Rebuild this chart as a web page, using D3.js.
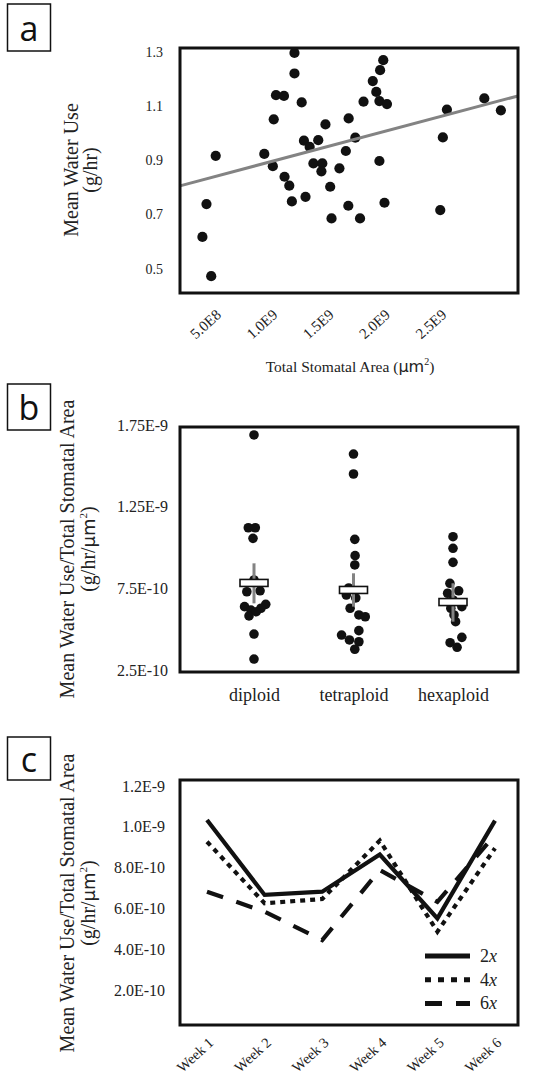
<!DOCTYPE html>
<html>
<head>
<meta charset="utf-8">
<script src="https://cdn.jsdelivr.net/npm/d3@7/dist/d3.min.js"></script>
<style>
  body { margin: 0; background: #fff; }
  svg { display: block; }
  .serif { font-family: "Liberation Serif", "Times New Roman", serif; fill: #222; }
</style>
</head>
<body>
<div id="chart"></div>
<script>
// panel a: mean water use vs total stomatal area
const areaVals = [4.83e8, 4.01e8, 3.65e8, 4.43e8, 9.14e8, 9.98e8, 9.90e8, 10.18e8, 10.89e8, 10.94e8,
  11.36e8, 11.59e8, 11.82e8, 11.82e8, 12.46e8, 12.66e8, 12.80e8, 13.17e8, 13.50e8, 13.93e8,
  14.29e8, 14.21e8, 14.57e8, 14.99e8, 15.11e8, 15.81e8, 16.38e8, 16.63e8, 16.60e8, 17.22e8,
  17.64e8, 17.95e8, 18.77e8, 19.08e8, 19.42e8, 19.70e8, 19.36e8, 20.03e8, 19.36e8, 19.81e8,
  24.76e8, 24.99e8, 25.35e8, 28.67e8, 30.14e8];
const waterVals = [0.916, 0.738, 0.617, 0.472, 0.923, 1.051, 0.878, 1.140, 1.137, 0.839,
  0.806, 0.748, 1.296, 1.220, 1.113, 0.972, 0.765, 0.949, 0.888, 0.974,
  0.888, 0.859, 1.032, 0.802, 0.685, 0.870, 0.934, 1.054, 0.732, 0.983,
  0.685, 1.116, 1.192, 1.152, 1.232, 1.269, 1.118, 1.107, 0.897, 0.743,
  0.716, 0.984, 1.087, 1.128, 1.084];
const fitIntercept = 0.787;
const fitSlope = 1.106e-10;
const aYTicks = [0.5, 0.7, 0.9, 1.1, 1.3];
const aXTicks = [5e8, 1e9, 1.5e9, 2e9, 2.5e9];
const aXTickLabels = ["5.0E8", "1.0E9", "1.5E9", "2.0E9", "2.5E9"];

// panel b: per ploidy, water use / stomatal area
const ploidy = ["diploid", "tetraploid", "hexaploid"];
const diploidVals = [16.89, 11.21, 11.21, 10.56, 8.01, 7.29, 7.35, 6.38, 6.52, 6.17, 6.28, 5.81, 6.07, 4.70, 3.17].map(v => v * 1e-10);
const diploidJit = [0, -0.057, 0.013, -0.01, 0, -0.072, 0.061, -0.095, 0.118, -0.031, 0.07, -0.05, 0.023, 0, 0];
const tetraVals = [15.72, 14.50, 10.50, 9.50, 8.93, 7.52, 7.09, 6.91, 6.28, 5.87, 5.76, 4.91, 4.64, 4.34, 4.23, 3.77].map(v => v * 1e-10);
const tetraJit = [0, 0, 0.013, 0.016, 0.013, -0.048, -0.072, 0.023, -0.034, 0.054, 0.118, 0.054, -0.12, -0.041, 0.054, 0.013];
const hexaVals = [10.66, 9.95, 9.09, 7.81, 7.35, 7.20, 6.79, 6.38, 6.28, 5.87, 5.46, 4.50, 4.17, 3.89].map(v => v * 1e-10);
const hexaJit = [0, 0, 0, -0.031, 0.057, -0.054, 0, 0.089, -0.022, 0.01, 0.026, 0.089, -0.029, 0.041];
const ploidyMean = [7.83e-10, 7.40e-10, 6.66e-10];
const ploidyHi = [9.03e-10, 8.42e-10, 7.81e-10];
const ploidyLo = [6.58e-10, 6.38e-10, 5.46e-10];
const bYTicks = [2.5e-10, 7.5e-10, 1.25e-9, 1.75e-9];
const bYTickLabels = ["2.5E-10", "7.5E-10", "1.25E-9", "1.75E-9"];

// panel c: weekly means
const weeks = ["Week 1", "Week 2", "Week 3", "Week 4", "Week 5", "Week 6"];
const s2x = [10.33, 6.66, 6.82, 8.64, 5.51, 10.30].map(v => v * 1e-10);
const s4x = [9.27, 6.25, 6.46, 9.32, 4.86, 8.95].map(v => v * 1e-10);
const s6x = [6.82, 5.84, 4.45, 7.88, 6.32, 9.60].map(v => v * 1e-10);
const seriesNames = ["2", "4", "6"];
const cYTicks = [2e-10, 4e-10, 6e-10, 8e-10, 1e-9, 1.2e-9];
const cYTickLabels = ["2.0E-10", "4.0E-10", "6.0E-10", "8.0E-10", "1.0E-9", "1.2E-9"];

const width = 554;
const height = 1079;
const boxLeft = 180;
const boxRight = 518;
const serif = '"Liberation Serif", "Times New Roman", serif';

const svg = d3.select("#chart").append("svg")
    .attr("width", width)
    .attr("height", height);

// letter boxes
const panelLetter = function (letter, top, h) {
    svg.append("rect")
        .attr("x", 7.5).attr("y", top).attr("width", 43).attr("height", h)
        .attr("fill", "none").attr("stroke", "#111").attr("stroke-width", 1.5);
    svg.append("text")
        .attr("x", 29).attr("y", top + h / 2)
        .attr("text-anchor", "middle").attr("dominant-baseline", "central")
        .style("font-family", '"Open Sans", "DejaVu Sans", sans-serif')
        .style("font-size", "34px").attr("fill", "#111")
        .text(letter);
};

const frame = function (top, bottom) {
    svg.append("rect")
        .attr("x", boxLeft).attr("y", top)
        .attr("width", boxRight - boxLeft).attr("height", bottom - top)
        .attr("fill", "none").attr("stroke", "#111").attr("stroke-width", 3);
};

const yTitle = function (line1, x1, x2, cy) {
    svg.append("text").attr("class", "serif")
        .attr("transform", "translate(" + x1 + "," + cy + ") rotate(-90)")
        .attr("text-anchor", "middle").style("font-size", "20px")
        .text(line1);
    return svg.append("text").attr("class", "serif")
        .attr("transform", "translate(" + x2 + "," + cy + ") rotate(-90)")
        .attr("text-anchor", "middle").style("font-size", "20px");
};

const unitLine = function (t) {
    t.append("tspan").text("(g/hr/");
    t.append("tspan").style("font-family", '"DejaVu Sans", sans-serif').style("font-size", "18px").text("\u03bcm");
    t.append("tspan").attr("dy", -8).style("font-size", "11px").text("2");
    t.append("tspan").attr("dy", 8).text(")");
};

const styleAxis = function (g, size) {
    g.select(".domain").remove();
    g.selectAll("text")
        .style("font-family", serif)
        .style("font-size", size)
        .attr("fill", "#222");
};

// ---------------- panel a ----------------
const aTop = 48, aBottom = 293;
const xA = d3.scaleLinear().domain([1.66e8, 31.66e8]).range([boxLeft, boxRight]);
const yA = d3.scaleLinear().domain([0.41, 1.314]).range([aBottom, aTop]);

panelLetter("a", 4, 47);

const pointsA = areaVals.map((v, i) => ({x: v, y: waterVals[i]}));
svg.append("g").selectAll("circle")
    .data(pointsA)
    .enter()
    .append("circle")
    .attr("cx", d => xA(d.x))
    .attr("cy", d => yA(d.y))
    .attr("r", 5.1)
    .attr("fill", "#111");

const fitX = xA.domain();
svg.append("line")
    .attr("x1", xA(fitX[0])).attr("y1", yA(fitIntercept + fitSlope * fitX[0]))
    .attr("x2", xA(fitX[1])).attr("y2", yA(fitIntercept + fitSlope * fitX[1]))
    .attr("stroke", "#838383").attr("stroke-width", 3);

frame(aTop, aBottom);

svg.append("g")
    .attr("transform", "translate(" + boxLeft + ",0)")
    .call(d3.axisLeft(yA).tickValues(aYTicks).tickSize(0).tickPadding(17).tickFormat(d3.format(".1f")))
    .call(g => styleAxis(g, "14px"));

svg.append("g")
    .attr("transform", "translate(0," + aBottom + ")")
    .call(d3.axisBottom(xA).tickValues(aXTicks).tickSize(0).tickFormat((d, i) => aXTickLabels[i]))
    .call(g => styleAxis(g, "15px"))
    .call(g => g.selectAll("text")
        .attr("x", 0).attr("y", 0).attr("dy", 0)
        .attr("text-anchor", "end")
        .attr("transform", "translate(4,23) rotate(-42)"));

const aXT = svg.append("text").attr("class", "serif")
    .attr("x", 350).attr("y", 372)
    .attr("text-anchor", "middle").style("font-size", "15.5px");
aXT.append("tspan").text("Total Stomatal Area (");
aXT.append("tspan").style("font-family", '"DejaVu Sans", sans-serif').style("font-size", "16px").text("\u03bcm");
aXT.append("tspan").attr("dy", -7).style("font-size", "10px").text("2");
aXT.append("tspan").attr("dy", 7).text(")");

yTitle("Mean Water Use", 78, 97, 170).text("(g/hr)");

// ---------------- panel b ----------------
const bTop = 427, bBottom = 672;
const xB = d3.scalePoint().domain(ploidy).range([254, 453]);
const yB = d3.scaleLinear().domain([2.5e-10, 1.75e-9]).range([670, 425]);

panelLetter("b", 384, 46);

const groupVals = [diploidVals, tetraVals, hexaVals];
const groupJit = [diploidJit, tetraJit, hexaJit];
const pointsB = [];
ploidy.forEach((p, gi) => {
    groupVals[gi].forEach((v, i) => pointsB.push({group: p, v: v, j: groupJit[gi][i]}));
});

svg.append("g").selectAll("circle")
    .data(pointsB)
    .enter()
    .append("circle")
    .attr("cx", d => xB(d.group) + d.j * xB.step())
    .attr("cy", d => yB(d.v))
    .attr("r", 4.8)
    .attr("fill", "#111");

const statsB = ploidy.map((p, i) => ({group: p, mean: ploidyMean[i], hi: ploidyHi[i], lo: ploidyLo[i]}));
svg.append("g").selectAll("line")
    .data(statsB)
    .enter()
    .append("line")
    .attr("x1", d => xB(d.group)).attr("x2", d => xB(d.group))
    .attr("y1", d => yB(d.hi)).attr("y2", d => yB(d.lo))
    .attr("stroke", "#838383").attr("stroke-width", 3);

svg.append("g").selectAll("rect")
    .data(statsB)
    .enter()
    .append("rect")
    .attr("x", d => xB(d.group) - 14)
    .attr("y", d => yB(d.mean) - 3.5)
    .attr("width", 28).attr("height", 7)
    .attr("fill", "#fff").attr("stroke", "#111").attr("stroke-width", 1.6);

frame(bTop, bBottom);

svg.append("g")
    .attr("transform", "translate(" + boxLeft + ",0)")
    .call(d3.axisLeft(yB).tickValues(bYTicks).tickSize(0).tickPadding(12).tickFormat((d, i) => bYTickLabels[i]))
    .call(g => styleAxis(g, "16px"));

svg.append("g")
    .attr("transform", "translate(0," + bBottom + ")")
    .call(d3.axisBottom(xB).tickSize(0).tickPadding(16))
    .call(g => styleAxis(g, "18px"));

unitLine(yTitle("Mean Water Use/Total Stomatal Area", 74, 95, 549));

// ---------------- panel c ----------------
const cTop = 780, cBottom = 1025;
const xC = d3.scalePoint().domain(weeks).range([207, 495]);
const yC = d3.scaleLinear().domain([2e-10, 1.2e-9]).range([990, 786]);

panelLetter("c", 737, 43);

const seriesC = [
    {name: seriesNames[0], vals: s2x, dash: null},
    {name: seriesNames[1], vals: s4x, dash: "5,5"},
    {name: seriesNames[2], vals: s6x, dash: "17,14"}
];

const lineC = d3.line()
    .x((d, i) => xC(weeks[i]))
    .y(d => yC(d));

svg.append("g").selectAll("path")
    .data(seriesC)
    .enter()
    .append("path")
    .attr("d", d => lineC(d.vals))
    .attr("fill", "none")
    .attr("stroke", "#111")
    .attr("stroke-width", 4.2)
    .attr("stroke-dasharray", d => d.dash)
    .attr("stroke-linejoin", "miter");

frame(cTop, cBottom);

svg.append("g")
    .attr("transform", "translate(" + boxLeft + ",0)")
    .call(d3.axisLeft(yC).tickValues(cYTicks).tickSize(0).tickPadding(15).tickFormat((d, i) => cYTickLabels[i]))
    .call(g => styleAxis(g, "16px"));

svg.append("g")
    .attr("transform", "translate(0," + cBottom + ")")
    .call(d3.axisBottom(xC).tickSize(0))
    .call(g => styleAxis(g, "14.5px"))
    .call(g => g.selectAll("text")
        .attr("x", 0).attr("y", 0).attr("dy", 0)
        .attr("text-anchor", "end")
        .attr("transform", "translate(7,19) rotate(-42)"));

unitLine(yTitle("Mean Water Use/Total Stomatal Area", 74, 95, 903));

// legend
const legend = svg.append("g").attr("transform", "translate(425,956)");
const legendItem = legend.selectAll("g")
    .data(seriesC)
    .enter()
    .append("g")
    .attr("transform", (d, i) => "translate(0," + i * 23.7 + ")");
legendItem.append("line")
    .attr("x1", 0).attr("x2", 45)
    .attr("stroke", "#111").attr("stroke-width", 5)
    .attr("stroke-dasharray", d => d.dash === "5,5" ? "6,7" : d.dash);
const legendText = legendItem.append("text").attr("class", "serif")
    .attr("x", 55).attr("y", 6).style("font-size", "18px");
legendText.append("tspan").text(d => d.name);
legendText.append("tspan").style("font-style", "italic").text("x");
</script>
</body>
</html>
